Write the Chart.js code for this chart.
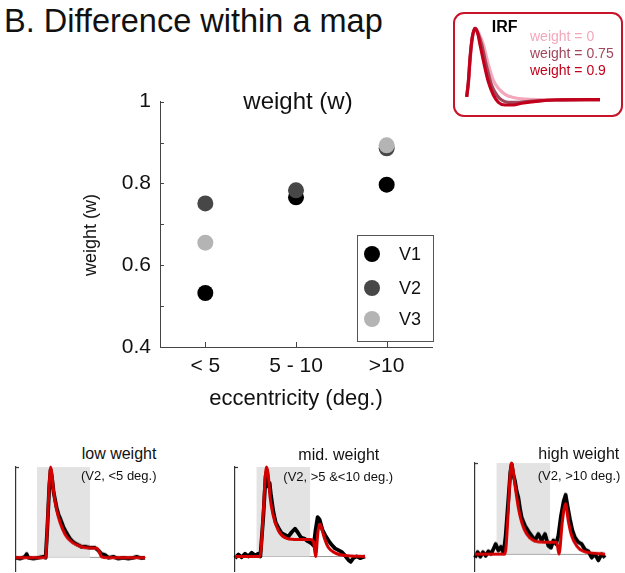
<!DOCTYPE html>
<html lang="en">

<head>
    <meta charset="utf-8">
    <meta content="width=device-width, initial-scale=1.0" name="viewport">
    <style>
        body { margin: 0; width: 625px; height: 573px; position: relative; overflow: hidden; background: #fff;
               font-family: "Liberation Sans", Arial, sans-serif; color: #111; }
        .box { position: absolute; }
        .txt { position: absolute; white-space: nowrap; line-height: 1; }
    </style>
</head>

<body>
    <div class="txt" style="left:4px; top:5px; font-size:32.5px;">B. Difference within a map</div>

    <div class="box" style="left:60px; top:80px; width:400px; height:340px;"><canvas id="weightChart"></canvas></div>
    <div class="txt" style="left:298px; top:89px; font-size:24px; transform:translateX(-50%);">weight (w)</div>
    <div class="txt" style="left:90px; top:235px; font-size:18px; transform:translate(-50%,-50%) rotate(-90deg);">weight (w)</div>

    <div class="box" style="left:453px; top:12px; width:170px; height:105px; border:2.5px solid #c8142a; border-radius:11px; box-sizing:border-box;"></div>
    <div class="box" style="left:462px; top:24px; width:143px; height:84px;"><canvas id="irfChart"></canvas></div>
    <div class="txt" style="left:491.7px; top:18.5px; font-size:16px; font-weight:bold; color:#000;">IRF</div>
    <div class="txt" style="left:530px; top:29px; font-size:14px; color:#f4a7bb;">weight = 0</div>
    <div class="txt" style="left:530px; top:46px; font-size:14px; color:#a1475c;">weight = 0.75</div>
    <div class="txt" style="left:530px; top:62.5px; font-size:14px; color:#c3001b;">weight = 0.9</div>

    <div class="box" style="left:14px; top:465.3px; width:140px; height:107.7px;"><canvas id="lowPanel"></canvas></div>
    <div class="box" style="left:232.7px; top:464.7px; width:140px; height:108.3px;"><canvas id="midPanel"></canvas></div>
    <div class="box" style="left:472.7px; top:461.3px; width:140px; height:111.7px;"><canvas id="highPanel"></canvas></div>
    <div class="txt" style="left:81.7px; top:446px; font-size:16px;">low weight</div>
    <div class="txt" style="left:81px; top:469.3px; font-size:13px;">(V2, &lt;5 deg.)</div>
    <div class="txt" style="left:298.3px; top:446.5px; font-size:16px;">mid. weight</div>
    <div class="txt" style="left:283.3px; top:470px; font-size:13px;">(V2, &gt;5 &amp;&lt;10 deg.)</div>
    <div class="txt" style="left:538.3px; top:445.8px; font-size:16px;">high weight</div>
    <div class="txt" style="left:537.7px; top:469px; font-size:13px;">(V2, &gt;10 deg.)</div>

    <script src="https://cdn.jsdelivr.net/npm/chart.js"></script>
    <script>
        // main plot: weight per eccentricity bin
        const eccentricity = ['< 5', '5 - 10', '>10'];
        const weightV1 = [0.532, 0.766, 0.797];
        const weightV2 = [0.751, 0.783, 0.886];
        const weightV3 = [0.655, null, 0.893];

        // IRF inset (time in s, normalised response)
        const irfTime09 = [0, 0.25, 0.5, 0.85, 1.25, 1.65, 2.0, 2.75, 3.25, 4.0, 4.75, 5.75, 7.0, 8.25, 10.75, 13.25, 20];
        const irfW09 = [0.04, 0.25, 0.58, 0.88, 1, 0.93, 0.77, 0.44, 0.25, 0.065, -0.037, -0.075, -0.075, -0.05, -0.02, -0.005, 0];
        const irfTime075 = [0, 0.25, 0.5, 0.85, 1.25, 1.7, 2.25, 3.0, 3.75, 4.5, 5.25, 6.25, 7.75, 9.75, 13.25, 20];
        const irfW075 = [0.04, 0.25, 0.58, 0.88, 1, 0.93, 0.77, 0.46, 0.2, 0.065, -0.005, -0.037, -0.037, -0.02, -0.005, 0];
        const irfTime0 = [0, 0.3, 0.55, 0.9, 1.35, 1.8, 2.5, 3.25, 4.0, 4.75, 5.75, 7.0, 8.25, 10.75, 20];
        const irfW0 = [0.04, 0.25, 0.58, 0.88, 1, 0.93, 0.77, 0.49, 0.27, 0.16, 0.075, 0.03, 0.01, 0, 0];

        // example time courses (V2), stimulus window in the same time units
        const lowStim = [4.2, 14.8];
        const lowTime = [0, 0.8, 1.8, 2.13, 2.47, 3.47, 4.47, 5.47, 5.93, 6.27, 6.67, 6.93, 7.2, 7.53, 8.13, 8.53, 8.93, 9.47, 10.13, 10.8, 11.47, 12.13, 13.13, 14, 14.8, 15.8, 16.47, 17.13, 17.8, 18.47, 19.47, 20.47, 21.47, 22.47, 23.47, 24.13, 25.13, 25.8];
        const lowBold = [0, -0.01, 0.01, 0.04, 0, -0.01, 0, 0.01, 0, 0.33, 0.8, 0.97, 0.88, 0.72, 0.55, 0.47, 0.42, 0.34, 0.27, 0.21, 0.17, 0.15, 0.12, 0.12, 0.11, 0.11, 0.08, 0.04, 0.03, 0, 0.01, -0.01, 0, -0.01, 0, 0.01, -0.005, 0];
        const lowFitTime = [0, 5.93, 6.27, 6.6, 6.93, 7.2, 7.47, 8.13, 8.8, 9.8, 10.8, 12.13, 14.13, 16.27, 17.13, 18.13, 25.8];
        const lowFit = [0, 0, 0.35, 0.75, 1, 0.92, 0.75, 0.53, 0.39, 0.26, 0.19, 0.14, 0.11, 0.10, 0.01, 0, 0];

        const midStim = [4.27, 15.07];
        const midTime = [0, 0.67, 1.33, 2.0, 2.67, 3.33, 4.0, 4.67, 5.07, 5.67, 6.13, 6.4, 6.67, 6.93, 7.2, 7.67, 8.13, 8.67, 9.33, 10, 10.67, 11.33, 12, 12.53, 13.2, 13.87, 14.53, 15.2, 15.73, 16.13, 16.53, 16.93, 17.47, 18, 18.67, 19.33, 20, 20.67, 21.33, 22, 22.67, 23.13, 23.67, 24.33, 25, 26];
        const midBold = [-0.02, 0.02, -0.01, 0.03, 0, 0.04, 0.01, 0.03, 0, 0.45, 0.9, 0.96, 0.78, 0.82, 0.68, 0.5, 0.38, 0.32, 0.26, 0.24, 0.22, 0.27, 0.31, 0.27, 0.21, 0.2, 0.17, 0.15, 0.12, 0.3, 0.44, 0.41, 0.3, 0.24, 0.18, 0.13, 0.09, 0.07, 0.05, 0.01, -0.04, -0.06, -0.02, 0, -0.02, 0];
        const midFitTime = [0, 5.0, 5.67, 6.0, 6.33, 6.67, 7.0, 7.67, 8.67, 10, 12, 15, 15.67, 16.13, 16.6, 17.0, 17.4, 17.9, 18.67, 20, 22, 26];
        const midFit = [0, 0, 0.5, 0.85, 1, 0.9, 0.67, 0.45, 0.29, 0.21, 0.19, 0.19, 0.17, 0, 0.28, 0.36, 0.3, 0.2, 0.1, 0.04, 0.01, 0];

        const highStim = [4.27, 15.07];
        const highTime = [0, 0.53, 1.07, 1.6, 2.13, 2.67, 3.2, 3.73, 4.13, 4.67, 5.2, 5.73, 6.13, 6.67, 7.07, 7.33, 7.67, 8, 8.33, 8.67, 9, 9.33, 10, 10.67, 11.33, 12, 12.67, 13.33, 14, 14.67, 15.2, 15.67, 16.2, 16.67, 17.2, 17.73, 18.13, 18.53, 19, 19.47, 20, 20.67, 21.33, 22, 22.67, 23.33, 24, 24.67, 25.33, 26];
        const highBold = [-0.04, 0.02, -0.03, 0.02, -0.02, 0.03, 0, 0.06, 0.11, 0.04, 0.08, 0.01, 0.2, 0.6, 0.9, 0.99, 0.87, 0.8, 0.69, 0.62, 0.5, 0.4, 0.31, 0.25, 0.2, 0.15, 0.22, 0.15, 0.22, 0.09, 0.07, 0.15, 0.11, 0.2, 0.42, 0.58, 0.65, 0.52, 0.38, 0.26, 0.18, 0.13, 0.11, 0.05, 0.03, -0.04, 0, -0.07, 0, -0.04];
        const highFitTime = [0, 6.0, 6.67, 7.0, 7.33, 7.67, 8.0, 8.67, 9.33, 10.33, 11.67, 14, 16.33, 16.8, 17.47, 18.13, 18.67, 19.33, 20.33, 21.67, 26];
        const highFit = [0, 0, 0.5, 0.85, 1, 0.9, 0.76, 0.51, 0.35, 0.22, 0.15, 0.13, 0.13, 0, 0.36, 0.55, 0.36, 0.2, 0.09, 0.03, 0];

        Chart.defaults.font.family = '"Liberation Sans", Arial, sans-serif';
        Chart.defaults.color = '#111';

        const pts = (xs, ys) => xs.map((x, i) => ({ x: x, y: ys[i] }));

        // small tick marks pointing into the plot, like the matlab axes
        const innerTicks = {
            id: 'innerTicks',
            afterDraw(chart) {
                const { ctx, chartArea, scales } = chart;
                ctx.save();
                ctx.strokeStyle = '#444';
                ctx.lineWidth = 1;
                scales.y.ticks.forEach((t, i) => {
                    const y = Math.round(scales.y.getPixelForTick(i)) + 0.5;
                    ctx.beginPath();
                    ctx.moveTo(chartArea.left, y);
                    ctx.lineTo(chartArea.left + 4, y);
                    ctx.stroke();
                });
                scales.x.ticks.forEach((t, i) => {
                    const x = Math.round(scales.x.getPixelForTick(i)) + 0.5;
                    ctx.beginPath();
                    ctx.moveTo(x, chartArea.bottom);
                    ctx.lineTo(x, chartArea.bottom - 5);
                    ctx.stroke();
                });
                ctx.restore();
            }
        };

        // boxed legend in the lower right corner of the plot
        const boxLegend = {
            id: 'boxLegend',
            afterDraw(chart) {
                const { ctx, chartArea } = chart;
                const left = chartArea.right - 75, top = chartArea.bottom - 112;
                const rows = [19, 53, 84];
                ctx.save();
                ctx.fillStyle = '#fff';
                ctx.fillRect(left, top, 76, 106);
                ctx.strokeStyle = '#555';
                ctx.lineWidth = 1;
                ctx.strokeRect(left + 0.5, top + 0.5, 76, 106);
                ctx.font = '18px "Liberation Sans", Arial, sans-serif';
                ctx.textBaseline = 'middle';
                chart.data.datasets.forEach((ds, i) => {
                    ctx.fillStyle = ds.pointBackgroundColor;
                    ctx.beginPath();
                    ctx.arc(left + 15, top + rows[i], 8, 0, Math.PI * 2);
                    ctx.fill();
                    ctx.fillStyle = '#111';
                    ctx.fillText(ds.label, left + 42, top + rows[i] + 1);
                });
                ctx.restore();
            }
        };

        // short tick at the top of the small panels' y axis
        const topTick = {
            id: 'topTick',
            afterDraw(chart) {
                const { ctx, chartArea } = chart;
                ctx.save();
                ctx.strokeStyle = '#333';
                ctx.lineWidth = 1.2;
                ctx.beginPath();
                ctx.moveTo(chartArea.left, chartArea.top + 0.5);
                ctx.lineTo(chartArea.left + 3, chartArea.top + 0.5);
                ctx.stroke();
                ctx.restore();
            }
        };

        new Chart(document.getElementById('weightChart'), {
            type: 'line',
            data: {
                labels: eccentricity,
                datasets: [
                    { label: 'V1', data: weightV1, pointBackgroundColor: '#000', order: 3 },
                    { label: 'V2', data: weightV2, pointBackgroundColor: '#474747', order: 2 },
                    { label: 'V3', data: weightV3, pointBackgroundColor: '#b4b4b4', order: 1 }
                ]
            },
            options: {
                animation: false,
                responsive: true,
                maintainAspectRatio: false,
                showLine: false,
                elements: { point: { radius: 8, borderWidth: 0, hoverRadius: 8 } },
                layout: { padding: { top: 21, right: 28, left: 0, bottom: 0 } },
                plugins: { legend: { display: false }, tooltip: { enabled: false } },
                scales: {
                    x: {
                        type: 'category',
                        offset: true,
                        grid: { display: false, drawTicks: false },
                        border: { color: '#444' },
                        ticks: { font: { size: 21 }, color: '#111', padding: 7 },
                        title: { display: true, text: 'eccentricity (deg.)', font: { size: 22 }, color: '#111', padding: { top: 0, bottom: 8 } },
                        afterFit(scale) { scale.height = 73; }
                    },
                    y: {
                        min: 0.4,
                        max: 1,
                        grid: { display: false, drawTicks: false },
                        border: { color: '#444' },
                        ticks: {
                            stepSize: 0.1,
                            autoSkip: false,
                            font: { size: 21 },
                            color: '#111',
                            padding: 9,
                            callback: function (v) {
                                const k = Math.round(v * 10);
                                if (k % 2 !== 0) return '';
                                return k === 10 ? '1' : (k / 10).toFixed(1);
                            }
                        },
                        afterFit(scale) { scale.width = 100; }
                    }
                }
            },
            plugins: [innerTicks, boxLegend]
        });

        new Chart(document.getElementById('irfChart'), {
            type: 'line',
            data: {
                datasets: [
                    { label: 'weight = 0.9', data: pts(irfTime09, irfW09), borderColor: '#c3001b', clip: false },
                    { label: 'weight = 0.75', data: pts(irfTime075, irfW075), borderColor: '#a1475c', clip: false },
                    { label: 'weight = 0', data: pts(irfTime0, irfW0), borderColor: '#f4a7bb', clip: false }
                ]
            },
            options: {
                animation: false,
                responsive: true,
                maintainAspectRatio: false,
                elements: { point: { radius: 0 }, line: { borderWidth: 3.2, cubicInterpolationMode: 'monotone' } },
                layout: { padding: { left: 4.7, right: 5, top: 4.3, bottom: 1.2 } },
                plugins: { legend: { display: false }, tooltip: { enabled: false } },
                scales: {
                    x: { type: 'linear', display: false, min: 0, max: 20 },
                    y: { display: false, min: -0.1, max: 1 }
                }
            }
        });

        function drawPanel(id, yMin, stim, time, bold, fitTime, fit) {
            new Chart(document.getElementById(id), {
                type: 'line',
                data: {
                    datasets: [
                        { label: 'fit', data: pts(fitTime, fit), borderColor: '#d40000', borderWidth: 3,
                          cubicInterpolationMode: 'monotone', order: 1, clip: false },
                        { label: 'data', data: pts(time, bold), borderColor: '#000', borderWidth: 3.8,
                          borderJoinStyle: 'round', tension: 0, order: 2, clip: false },
                        { label: 'stimulus', data: [{ x: stim[0], y: 1 }, { x: stim[1], y: 1 }],
                          fill: 'origin', backgroundColor: '#e3e3e3', borderWidth: 0, order: 3 }
                    ]
                },
                options: {
                    animation: false,
                    responsive: true,
                    maintainAspectRatio: false,
                    elements: { point: { radius: 0 } },
                    layout: { padding: { left: 0, right: 8, top: 2, bottom: 0 } },
                    plugins: { legend: { display: false }, tooltip: { enabled: false } },
                    scales: {
                        x: { type: 'linear', display: false, min: 0, max: 26 },
                        y: {
                            min: yMin,
                            max: 1,
                            ticks: { display: false },
                            grid: { drawTicks: false, color: '#999', lineWidth: 1 },
                            border: { color: '#333', width: 1.2 },
                            afterBuildTicks(scale) { scale.ticks = [{ value: 0 }]; },
                            afterFit(scale) { scale.width = 2; }
                        }
                    }
                },
                plugins: [topTick]
            });
        }

        drawPanel('lowPanel', -0.156, lowStim, lowTime, lowBold, lowFitTime, lowFit);
        drawPanel('midPanel', -0.168, midStim, midTime, midBold, midFitTime, midFit);
        drawPanel('highPanel', -0.196, highStim, highTime, highBold, highFitTime, highFit);
    </script>
</body>

</html>
